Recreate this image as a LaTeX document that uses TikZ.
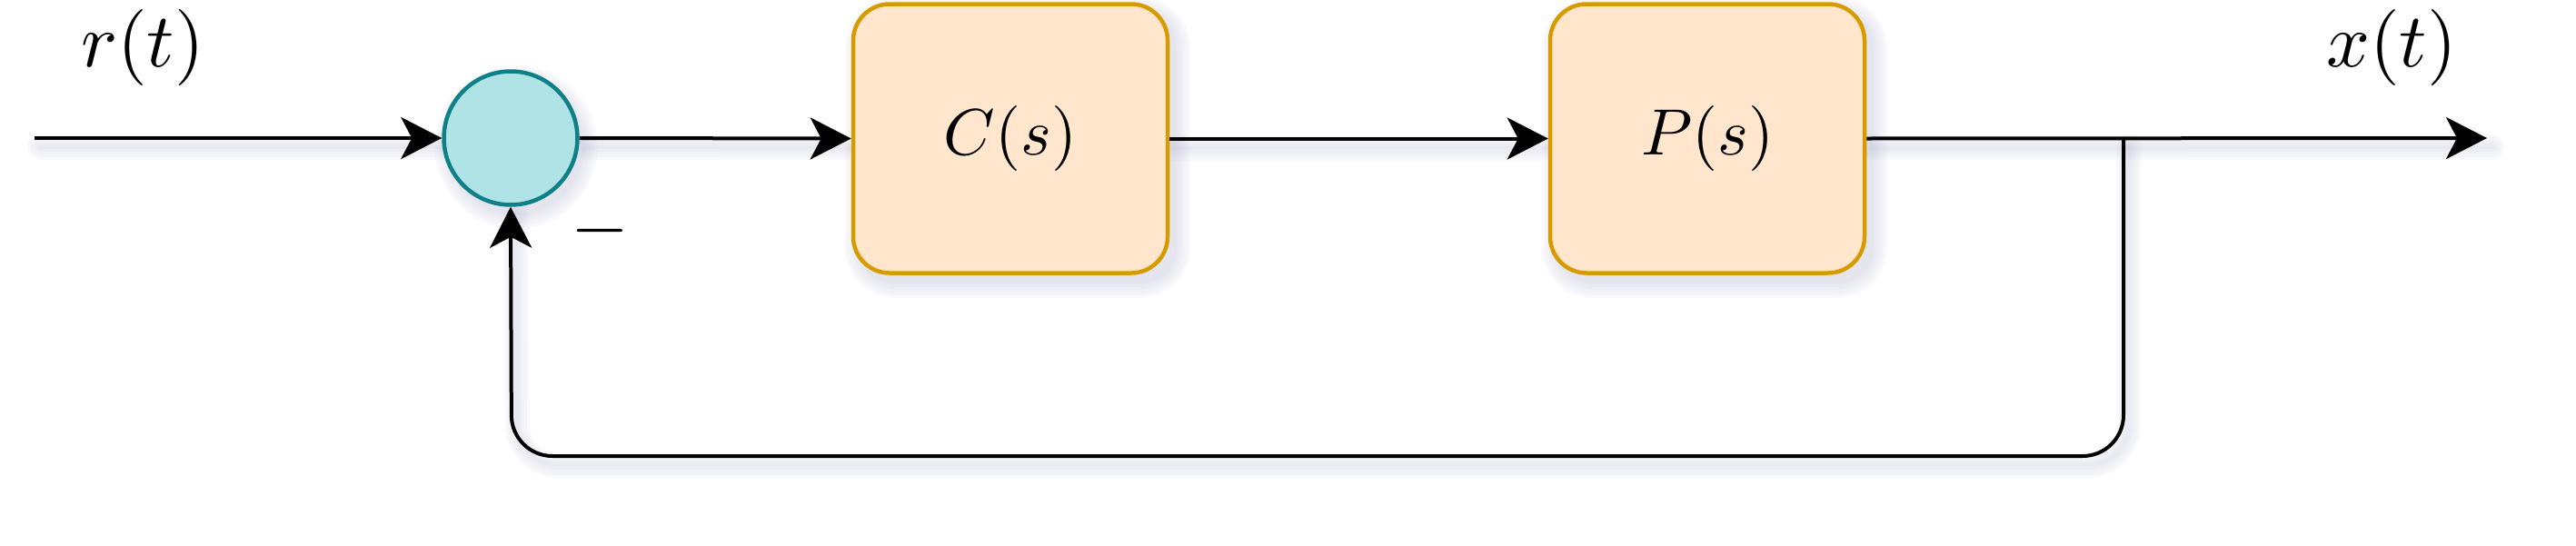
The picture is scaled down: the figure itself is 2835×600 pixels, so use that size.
\documentclass[tikz,border=0pt]{standalone}
\usepackage{graphicx}
\usetikzlibrary{arrows.meta,backgrounds}
\definecolor{boxfill}{HTML}{FFE6CC}
\definecolor{boxline}{HTML}{D79B00}
\definecolor{sumfill}{HTML}{B0E3E6}
\definecolor{sumline}{HTML}{0E8088}
\definecolor{shadowc}{HTML}{8C90B8}
\newcommand\bigmath[2]{\scalebox{#1}{$#2$}}
\tikzset{
  blockbox/.style={draw=boxline, fill=boxfill, line width=4.5pt, rounded corners=40pt,
    minimum width=346pt, minimum height=296pt, inner sep=0pt},
  sumnode/.style={circle, draw=sumline, fill=sumfill, line width=4.5pt, minimum size=147pt, inner sep=0pt},
  wire/.style={line width=4pt},
  sig/.style={wire, -{Stealth[length=45pt,width=46pt,inset=12pt]}},
  lbl/.style={inner sep=0pt},
  shadowline/.style={shadowc, opacity=0.045, line cap=round, line join=round,
    transform canvas={xshift=6pt,yshift=-10pt}},
}
\begin{document}
\begin{tikzpicture}[x=1pt,y=-1pt]
\useasboundingbox (0,0) rectangle (2835,600);
% nodes
\node[sumnode] (sum) at (562,152) {};
\node[blockbox] (cbox) at (1112,152.5) {\bigmath{7.2}{C(s)}};
\node[blockbox] (pbox) at (1879,152.5) {\bigmath{7.2}{P(s)}};
\node[lbl] (rlab) at (157,52) {\bigmath{8.4}{r(t)}};
\node[lbl] (xlab) at (2632,52) {\bigmath{8.4}{x(t)}};
\node[lbl] (minus) at (660,254) {\bigmath{8.2}{-}};
\coordinate (in) at (38,152);
\coordinate (out) at (2737,152);
\coordinate (br) at (2337,152);
\coordinate (fbR) at (2337,502);
\coordinate (fbL) at (563,502);
% shadows
\begin{pgfonlayer}{background}
  \foreach \b in {cbox,pbox}{
    \foreach \e in {0,3,...,15}{
      \pgfmathsetmacro\rr{40+\e}
      \fill[shadowc, opacity=0.045, rounded corners=\rr pt]
        ([shift={(8-\e,10-\e)}]\b.north west) rectangle ([shift={(8+\e,10+\e)}]\b.south east);
    }
  }
  \foreach \e in {0,3,...,15}{
    \fill[shadowc, opacity=0.045] ([shift={(6,10)}]sum.center) circle ({75+\e});
  }
  \foreach \w in {4,10,16,22,28}{
    \draw[shadowline, line width=\w pt] (in) -- (sum.west);
    \draw[shadowline, line width=\w pt] (sum.east) -- (cbox.west);
    \draw[shadowline, line width=\w pt] (cbox.east) -- (pbox.west);
    \draw[shadowline, line width=\w pt] (pbox.east) -- (out);
    \draw[shadowline, line width=\w pt, rounded corners=45pt] (br) -- (fbR) -- (fbL) -- (sum.south);
  }
\end{pgfonlayer}
% connectors
\draw[sig] (in) -- (sum.west);
\draw[sig] (sum.east) -- (cbox.west);
\draw[sig] (cbox.east) -- (pbox.west);
\draw[sig] (pbox.east) -- (out);
\draw[sig, rounded corners=45pt] (br) -- (fbR) -- (fbL) -- (sum.south);
\end{tikzpicture}
\end{document}
